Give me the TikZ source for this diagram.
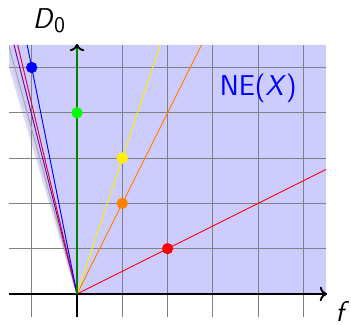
\documentclass[tikz,border=0pt]{standalone}
\usetikzlibrary{arrows.meta}
\definecolor{conecol}{RGB}{204,204,255}
\definecolor{crimsonray}{RGB}{215,0,80}
\definecolor{purpleray}{RGB}{125,0,140}
\definecolor{greenax}{RGB}{0,128,0}
\definecolor{dotgreen}{RGB}{0,255,0}
\definecolor{orangeray}{RGB}{255,128,0}
\definecolor{yellowray}{RGB}{255,240,0}
\begin{document}
\begin{tikzpicture}[
  ray/.style={line width=0.6pt},
  dot/.style={circle, inner sep=0pt, minimum size=0.25cm},
  lbl/.style={font=\sffamily\fontsize{18}{21}\selectfont, inner sep=0pt},
  axisline/.style={line width=1.2pt, -{To[length=1.6mm,width=3.2mm]}},
  gridline/.style={gray, line width=0.7pt},
]
\useasboundingbox (-1.70,-0.684) rectangle (6.05,6.49);
\coordinate (O) at (0,0);
% ray end points (clipped)
\coordinate (redEnd) at (11,5.5);
\coordinate (orangeEnd) at (2.75,5.5);
\coordinate (yellowEnd) at (1.834,5.5);
\coordinate (blueEnd) at (-1.1,5.5);
\coordinate (crimsonEnd) at (-1.31,5.5);
\coordinate (purpleEnd) at (-1.39,5.5);
\coordinate (grayEnd) at (-1.51,5.5);
\begin{scope}
  \clip (-1.5,-0.5) rectangle (5.5,5.5);
  \fill[conecol] (O) -- (5.5,0) -- (5.5,5.5) -- (-1.62,5.5) -- cycle;
  \draw[blue!15, line width=1.2pt] (O) -- (-1.63,5.5);
  \draw[gray!30, line width=0.6pt] (O) -- (-1.58,5.5);
  \draw[gridline] (-1.5,-0.5) grid (5.5,5.5);
  \draw[ray, red] (O) -- (redEnd);
  \draw[ray, orangeray] (O) -- (orangeEnd);
  \draw[ray, yellowray] (O) -- (yellowEnd);
  \draw[ray, gray!70] (O) -- (grayEnd);
  \draw[ray, purpleray] (O) -- (purpleEnd);
  \draw[ray, crimsonray] (O) -- (crimsonEnd);
  \draw[ray, blue] (O) -- (blueEnd);
\end{scope}
% axes
\coordinate (xStart) at (-1.5,0);
\coordinate (xEnd) at (5.52,0);
\coordinate (yStart) at (0,-0.5);
\coordinate (yEnd) at (0,5.52);
\coordinate (greenEnd) at (0,5.44);
\draw[axisline] (xStart) -- (xEnd);
\draw[axisline] (yStart) -- (yEnd);
\draw[greenax, line width=1.2pt] (O) -- (greenEnd);
% dots
\node[dot, fill=red] (pRed) at (2,1) {};
\node[dot, fill=orangeray] (pOrange) at (1,2) {};
\node[dot, fill=yellowray] (pYellow) at (1,3) {};
\node[dot, fill=dotgreen] (pGreen) at (0,4) {};
\node[dot, fill=blue] (pBlue) at (-1,5) {};
% labels
\node[lbl] (lD) at (-0.62,6.03) {\textit{D}\raisebox{-2.8pt}{\fontsize{14}{15}\selectfont 0}};
\node[lbl] (lf) at (5.86,-0.39) {\textit{f}};
\node[lbl, text=blue] (lNE) at (4.0,4.53) {NE(\textit{X})};
\end{tikzpicture}
\end{document}
